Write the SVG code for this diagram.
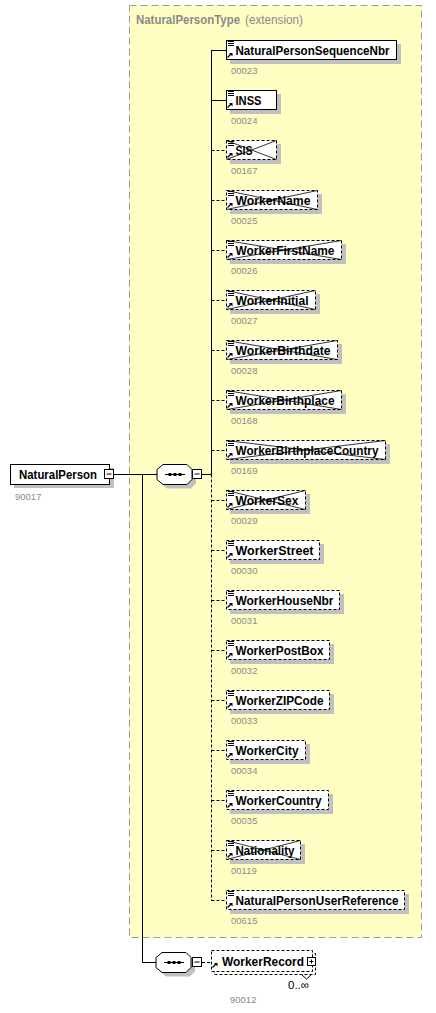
<svg xmlns="http://www.w3.org/2000/svg" width="436" height="1013" viewBox="0 0 436 1013">
<style>
.bg{fill:#ffffff}
.ct{fill:#ffffc4;stroke:#9a9a9a;stroke-width:1;stroke-dasharray:7,4}
.sh{fill:#c0c0c0}
.bx{fill:#ffffff;stroke:#000;stroke-width:1}
.dbx{fill:#ffffff;stroke:#000;stroke-width:1;stroke-dasharray:3,2}
.x{stroke:#000;stroke-width:0.8;fill:none}
.ln{stroke:#000;stroke-width:1;fill:none}
.dl{stroke:#000;stroke-width:1;fill:none;stroke-dasharray:3,2}
.nm{font-family:"Liberation Sans",Arial,sans-serif;font-weight:bold;font-size:12.8px;fill:#000}
.id{font-family:"Liberation Sans",Arial,sans-serif;font-size:9.5px;fill:#8a8a8a}
.tt{font-family:"Liberation Sans",Arial,sans-serif;font-size:12px;fill:#8a8a8a}
.oc{font-family:"Liberation Sans",Arial,sans-serif;font-size:11.5px;fill:#000}
</style>
<defs>
<g id="ico">
<path d="M2,1.5h6M2,3.5h6M2,5.5h6" stroke="#000" stroke-width="1"/>
<path d="M1.5,17.5L5,14" stroke="#000" stroke-width="1.2"/>
<polygon points="3,13 6.5,13 6.5,16.5" fill="#000"/>
</g>
<g id="arr">
<path d="M1.5,17.5L5,14" stroke="#000" stroke-width="1.2"/>
<polygon points="3,13 6.5,13 6.5,16.5" fill="#000"/>
</g>
<g id="seq">
<polygon points="10,4 34,4 39,9 39,19 34,24 10,24 4,19 4,9" fill="#c0c0c0"/>
<polygon points="6,0 30,0 35,5 35,15 30,20 6,20 0,15 0,5" fill="#fff" stroke="#000" stroke-width="1"/>
<path d="M8,10h20" stroke="#000" stroke-width="1"/>
<rect x="11.5" y="8.5" width="3" height="3" fill="#000"/>
<rect x="16.5" y="8.5" width="3" height="3" fill="#000"/>
<rect x="21.5" y="8.5" width="3" height="3" fill="#000"/>
</g>
</defs>
<rect class="bg" x="0" y="0" width="436" height="1013"/>

<g id="type-box">
<rect class="ct" x="129.5" y="5.5" width="292" height="932"/>
<text class="tt" x="136" y="24" font-weight="bold" textLength="104" lengthAdjust="spacingAndGlyphs">NaturalPersonType</text>
<text class="tt" x="245" y="24" textLength="58" lengthAdjust="spacingAndGlyphs">(extension)</text>
</g>

<g id="connectors">
<path class="ln" d="M114,474.5H157"/>
<path class="ln" d="M142.5,474V962.5H156"/>
<path class="ln" d="M202,474.5H211.5"/>
<path class="ln" d="M211.5,50V474.5"/>
<path class="dl" d="M211.5,474.5V900.5"/>
<path class="ln" d="M211.5,50.5H226"/>
<path class="ln" d="M211.5,100.5H226"/>
<path class="dl" d="M211.5,150.5H226M211.5,200.5H226M211.5,250.5H226M211.5,300.5H226M211.5,350.5H226M211.5,400.5H226M211.5,450.5H226M211.5,500.5H226M211.5,550.5H226M211.5,600.5H226M211.5,650.5H226M211.5,700.5H226M211.5,750.5H226M211.5,800.5H226M211.5,850.5H226M211.5,900.5H226"/>
<path class="dl" d="M202,962.5H211"/>
</g>

<g id="NaturalPerson">
<rect class="sh" x="14" y="468" width="100" height="20"/>
<rect class="bx" x="10.5" y="464.5" width="99" height="20"/>
<text class="nm" x="19" y="479" textLength="78" lengthAdjust="spacingAndGlyphs">NaturalPerson</text>
<rect class="bx" x="104.5" y="469.5" width="9" height="9"/>
<path class="ln" d="M106.5,474H111.5"/>
<text class="id" x="15" y="500">90017</text>
</g>

<g id="sequence1">
<use href="#seq" x="157" y="464.5"/>
<rect class="bx" x="192.5" y="469.5" width="9" height="9"/>
<path class="ln" d="M194.5,474H199.5"/>
</g>

<g id="e00023">
<rect class="sh" x="230" y="44" width="171" height="20"/>
<rect class="bx" x="226.5" y="40.5" width="170" height="19"/>
<use href="#ico" x="226" y="40"/>
<text class="nm" x="235.5" y="55" textLength="154" lengthAdjust="spacingAndGlyphs">NaturalPersonSequenceNbr</text>
<text class="id" x="231" y="74">00023</text>
</g>
<g id="e00024">
<rect class="sh" x="230" y="94" width="51" height="20"/>
<rect class="bx" x="226.5" y="90.5" width="50" height="19"/>
<use href="#ico" x="226" y="90"/>
<text class="nm" x="235.5" y="105" textLength="26" lengthAdjust="spacingAndGlyphs">INSS</text>
<text class="id" x="231" y="124">00024</text>
</g>
<g id="e00167">
<rect class="sh" x="230" y="144" width="51" height="20"/>
<rect class="dbx" x="226.5" y="140.5" width="50" height="19"/>
<use href="#ico" x="226" y="140"/>
<text class="nm" x="235.5" y="155" textLength="17" lengthAdjust="spacingAndGlyphs">SIS</text>
<path class="x" d="M226.5,140.5L276.5,159.5M226.5,159.5L276.5,140.5"/>
<text class="id" x="231" y="174">00167</text>
</g>
<g id="e00025">
<rect class="sh" x="230" y="194" width="92" height="20"/>
<rect class="dbx" x="226.5" y="190.5" width="91" height="19"/>
<use href="#ico" x="226" y="190"/>
<text class="nm" x="235.5" y="205" textLength="75" lengthAdjust="spacingAndGlyphs">WorkerName</text>
<path class="x" d="M226.5,190.5L317.5,209.5M226.5,209.5L317.5,190.5"/>
<text class="id" x="231" y="224">00025</text>
</g>
<g id="e00026">
<rect class="sh" x="230" y="244" width="116" height="20"/>
<rect class="dbx" x="226.5" y="240.5" width="115" height="19"/>
<use href="#ico" x="226" y="240"/>
<text class="nm" x="235.5" y="255" textLength="99" lengthAdjust="spacingAndGlyphs">WorkerFirstName</text>
<path class="x" d="M226.5,240.5L341.5,259.5M226.5,259.5L341.5,240.5"/>
<text class="id" x="231" y="274">00026</text>
</g>
<g id="e00027">
<rect class="sh" x="230" y="294" width="90" height="20"/>
<rect class="dbx" x="226.5" y="290.5" width="89" height="19"/>
<use href="#ico" x="226" y="290"/>
<text class="nm" x="235.5" y="305" textLength="73" lengthAdjust="spacingAndGlyphs">WorkerInitial</text>
<path class="x" d="M226.5,290.5L315.5,309.5M226.5,309.5L315.5,290.5"/>
<text class="id" x="231" y="324">00027</text>
</g>
<g id="e00028">
<rect class="sh" x="230" y="344" width="112" height="20"/>
<rect class="dbx" x="226.5" y="340.5" width="111" height="19"/>
<use href="#ico" x="226" y="340"/>
<text class="nm" x="235.5" y="355" textLength="95" lengthAdjust="spacingAndGlyphs">WorkerBirthdate</text>
<path class="x" d="M226.5,340.5L337.5,359.5M226.5,359.5L337.5,340.5"/>
<text class="id" x="231" y="374">00028</text>
</g>
<g id="e00168">
<rect class="sh" x="230" y="394" width="116" height="20"/>
<rect class="dbx" x="226.5" y="390.5" width="115" height="19"/>
<use href="#ico" x="226" y="390"/>
<text class="nm" x="235.5" y="405" textLength="99" lengthAdjust="spacingAndGlyphs">WorkerBirthplace</text>
<path class="x" d="M226.5,390.5L341.5,409.5M226.5,409.5L341.5,390.5"/>
<text class="id" x="231" y="424">00168</text>
</g>
<g id="e00169">
<rect class="sh" x="230" y="444" width="160" height="20"/>
<rect class="dbx" x="226.5" y="440.5" width="159" height="19"/>
<use href="#ico" x="226" y="440"/>
<text class="nm" x="235.5" y="455" textLength="143" lengthAdjust="spacingAndGlyphs">WorkerBirthplaceCountry</text>
<path class="x" d="M226.5,440.5L385.5,459.5M226.5,459.5L385.5,440.5"/>
<text class="id" x="231" y="474">00169</text>
</g>
<g id="e00029">
<rect class="sh" x="230" y="494" width="80" height="20"/>
<rect class="dbx" x="226.5" y="490.5" width="79" height="19"/>
<use href="#ico" x="226" y="490"/>
<text class="nm" x="235.5" y="505" textLength="63" lengthAdjust="spacingAndGlyphs">WorkerSex</text>
<path class="x" d="M226.5,490.5L305.5,509.5M226.5,509.5L305.5,490.5"/>
<text class="id" x="231" y="524">00029</text>
</g>
<g id="e00030">
<rect class="sh" x="230" y="544" width="94" height="20"/>
<rect class="dbx" x="226.5" y="540.5" width="93" height="19"/>
<use href="#ico" x="226" y="540"/>
<text class="nm" x="235.5" y="555" textLength="78" lengthAdjust="spacingAndGlyphs">WorkerStreet</text>
<text class="id" x="231" y="574">00030</text>
</g>
<g id="e00031">
<rect class="sh" x="230" y="594" width="114" height="20"/>
<rect class="dbx" x="226.5" y="590.5" width="113" height="19"/>
<use href="#ico" x="226" y="590"/>
<text class="nm" x="235.5" y="605" textLength="98" lengthAdjust="spacingAndGlyphs">WorkerHouseNbr</text>
<text class="id" x="231" y="624">00031</text>
</g>
<g id="e00032">
<rect class="sh" x="230" y="644" width="104" height="20"/>
<rect class="dbx" x="226.5" y="640.5" width="103" height="19"/>
<use href="#ico" x="226" y="640"/>
<text class="nm" x="235.5" y="655" textLength="88" lengthAdjust="spacingAndGlyphs">WorkerPostBox</text>
<text class="id" x="231" y="674">00032</text>
</g>
<g id="e00033">
<rect class="sh" x="230" y="694" width="104" height="20"/>
<rect class="dbx" x="226.5" y="690.5" width="103" height="19"/>
<use href="#ico" x="226" y="690"/>
<text class="nm" x="235.5" y="705" textLength="88" lengthAdjust="spacingAndGlyphs">WorkerZIPCode</text>
<text class="id" x="231" y="724">00033</text>
</g>
<g id="e00034">
<rect class="sh" x="230" y="744" width="80" height="20"/>
<rect class="dbx" x="226.5" y="740.5" width="79" height="19"/>
<use href="#ico" x="226" y="740"/>
<text class="nm" x="235.5" y="755" textLength="63" lengthAdjust="spacingAndGlyphs">WorkerCity</text>
<text class="id" x="231" y="774">00034</text>
</g>
<g id="e00035">
<rect class="sh" x="230" y="794" width="103" height="20"/>
<rect class="dbx" x="226.5" y="790.5" width="102" height="19"/>
<use href="#ico" x="226" y="790"/>
<text class="nm" x="235.5" y="805" textLength="86" lengthAdjust="spacingAndGlyphs">WorkerCountry</text>
<text class="id" x="231" y="824">00035</text>
</g>
<g id="e00119">
<rect class="sh" x="230" y="844" width="75" height="20"/>
<rect class="dbx" x="226.5" y="840.5" width="74" height="19"/>
<use href="#ico" x="226" y="840"/>
<text class="nm" x="235.5" y="855" textLength="59" lengthAdjust="spacingAndGlyphs">Nationality</text>
<path class="x" d="M226.5,840.5L300.5,859.5M226.5,859.5L300.5,840.5"/>
<text class="id" x="231" y="874">00119</text>
</g>
<g id="e00615">
<rect class="sh" x="230" y="894" width="179" height="20"/>
<rect class="dbx" x="226.5" y="890.5" width="178" height="19"/>
<use href="#ico" x="226" y="890"/>
<text class="nm" x="235.5" y="905" textLength="163" lengthAdjust="spacingAndGlyphs">NaturalPersonUserReference</text>
<text class="id" x="231" y="924">00615</text>
</g>

<g id="sequence2">
<use href="#seq" x="156" y="952.5"/>
<rect class="bx" x="192.5" y="957.5" width="9" height="9"/>
<path class="ln" d="M194.5,962H199.5"/>
</g>

<g id="WorkerRecord">
<rect class="dbx" x="214.5" y="953.5" width="101" height="21"/>
<rect class="dbx" x="211.5" y="950.5" width="101" height="21"/>
<path class="ln" d="M302,975L306.5,979L311,975"/>
<use href="#arr" x="211" y="950"/>
<text class="nm" x="222" y="966" textLength="82" lengthAdjust="spacingAndGlyphs">WorkerRecord</text>
<rect class="bx" x="307.5" y="957.5" width="8" height="8"/>
<path class="ln" d="M309.5,961.5H313.5M311.5,959.5V963.5"/>
<text class="oc" x="288" y="989">0..∞</text>
<text class="id" x="230" y="1003">90012</text>
</g>
</svg>
